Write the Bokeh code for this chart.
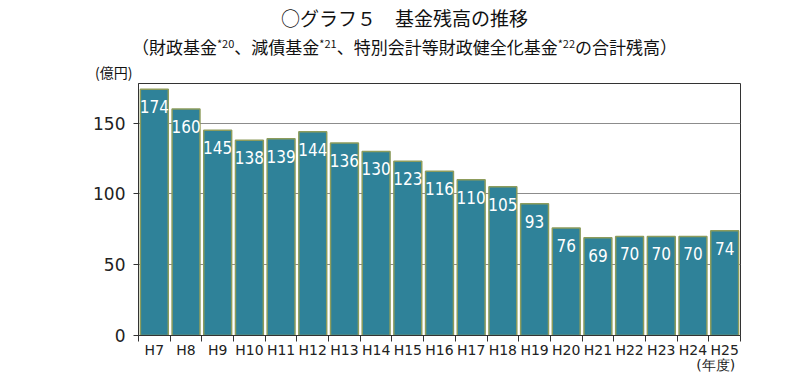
from bokeh.plotting import figure
from bokeh.layouts import column
from bokeh.models import Range1d, FixedTicker, ColumnDataSource, Div
from bokeh.core.properties import value
from bokeh.embed import file_html
from bokeh.resources import INLINE

years = ["H7", "H8", "H9", "H10", "H11", "H12", "H13", "H14", "H15",
         "H16", "H17", "H18", "H19", "H20", "H21", "H22", "H23", "H24", "H25"]
balances = [174, 160, 145, 138, 139, 144, 136, 130, 123, 116, 110, 105, 93, 76, 69, 70, 70, 70, 74]
y_ticks = [0, 50, 100, 150]
title = "○グラフ５　基金残高の推移"
sub_parts = ["（財政基金", "、減債基金", "、特別会計等財政健全化基金", "の合計残高）"]
sub_notes = ["*20", "*21", "*22"]
y_unit = "(億円)"
x_unit = "(年度)"

n = len(years)
xs = [i + 0.5 for i in range(n)]
src = ColumnDataSource(dict(x=xs, top=balances, lab=[str(v) for v in balances]))

JP = "'Noto Sans CJK JP'"
W = 801
HH = 83  # header height (page y 0..83, down to the plot frame)

# ---------- header (titles) as HTML text ----------
sub_html = ""
for i, part in enumerate(sub_parts):
    sub_html += part
    if i < len(sub_notes):
        sub_html += ('<span style="font-size:11px;position:relative;top:-6px;">'
                     + sub_notes[i] + '</span>')

header_html = (
    f'<div style="position:relative;width:{W}px;height:{HH}px;font-family:{JP};color:#111;">'
    f'<div style="position:absolute;left:8px;top:8px;width:793px;text-align:center;'
    f'font-size:19px;line-height:20px;white-space:nowrap;">{title}</div>'
    f'<div style="position:absolute;left:8px;top:38px;width:793px;text-align:center;'
    f'font-size:17px;line-height:18px;white-space:nowrap;">{sub_html}</div>'
    f'<div style="position:absolute;left:95px;top:64px;font-size:14px;line-height:17px;'
    f'white-space:nowrap;">{y_unit}</div>'
    '</div>'
)
h = Div(text=header_html, width=W, height=HH, margin=(0, 0, 0, 0))

# ---------- main chart ----------
p = figure(frame_width=602, frame_height=252, output_backend="svg", toolbar_location=None,
           title=None, x_range=Range1d(0, n), y_range=Range1d(0, 178),
           min_border_left=138, min_border_right=61, min_border_top=0, min_border_bottom=20,
           margin=(0, 0, 0, 0))
p.outline_line_color = "#333333"
p.outline_line_width = 1
p.xgrid.visible = False
p.ygrid.grid_line_color = "#8c8c8c"
p.ygrid.grid_line_width = 1

p.vbar(x="x", top="top", bottom=0, width=0.88, source=src,
       fill_color="#2f8299", line_color="#8d9c5c", line_width=1.5)
p.text(x="x", y="top", text="lab", source=src, text_color="white",
       text_font=value("'DejaVu Sans Condensed', 'Roboto Condensed', Roboto"), text_font_size="17px",
       text_align="center", text_baseline="top", y_offset=11)

# x axis: labels at category centres, ticks at category boundaries
labels = list(years)
labels[-1] = years[-1] + "\n" + x_unit + "\u00a0" * 4
p.xaxis.ticker = FixedTicker(ticks=xs, minor_ticks=list(range(n + 1)))
p.xaxis.major_label_overrides = {x: y for x, y in zip(xs, labels)}
p.xaxis.major_tick_out = 0
p.xaxis.major_tick_in = 0
p.xaxis.minor_tick_out = 6
p.xaxis.minor_tick_in = 0
p.xaxis.minor_tick_line_color = "#333333"
p.xaxis.axis_line_color = "#333333"
p.xaxis.major_label_text_font = "DejaVu Sans"
p.xaxis.major_label_text_font_size = "14px"
p.xaxis.major_label_text_color = "#222222"
p.xaxis.major_label_text_line_height = 0.95
p.xaxis.major_label_standoff = 0

# y axis
p.yaxis.ticker = FixedTicker(ticks=y_ticks, minor_ticks=[])
p.yaxis.major_tick_out = 5
p.yaxis.major_tick_in = 0
p.yaxis.major_tick_line_color = "#333333"
p.yaxis.axis_line_color = "#333333"
p.yaxis.major_label_text_font = "DejaVu Sans"
p.yaxis.major_label_text_font_size = "17px"
p.yaxis.major_label_text_color = "#222222"
p.yaxis.major_label_standoff = 8

open("out.html", "w").write(file_html(column(h, p, spacing=0), INLINE))
